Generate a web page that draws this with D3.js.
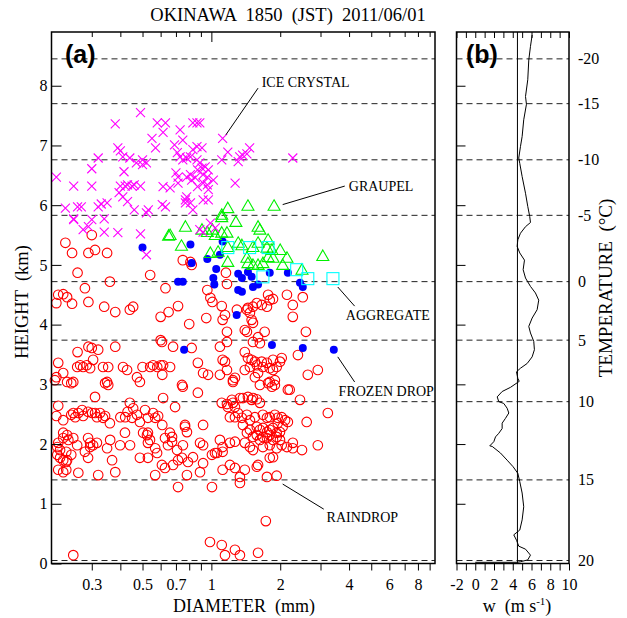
<!DOCTYPE html>
<html>
<head>
<meta charset="utf-8">
<script src="https://d3js.org/d3.v7.min.js"></script>
<style>
  body { margin: 0; background: #fff; }
  text { font-family: "Liberation Serif", "Times New Roman", serif; }
</style>
</head>
<body>
<div id="chart"></div>
<script>
// particle type, diameter (mm) and height (km)
const iceCrystal = [
  [0.21,6.47],[0.25,6.32],[0.23,5.95],[0.26,5.97],[0.27,5.97],[0.25,5.77],[0.30,6.61],[0.30,6.32],
  [0.32,5.97],[0.33,6.02],[0.35,6.04],[0.34,5.77],[0.38,7.36],[0.39,6.96],[0.40,6.91],[0.32,6.79],
  [0.41,6.81],[0.415,6.56],[0.40,6.32],[0.42,6.32],[0.43,6.34],[0.45,6.32],[0.46,6.34],[0.49,6.32],
  [0.395,6.21],[0.41,6.14],[0.43,6.06],[0.46,5.92],[0.49,7.55],[0.44,6.79],[0.47,6.71],[0.50,6.68],
  [0.50,6.76],[0.52,6.71],[0.55,7.12],[0.57,6.96],[0.58,7.38],[0.63,7.38],[0.615,7.22],[0.615,6.31],
  [0.61,6.01],[0.63,5.97],[0.52,5.87],[0.53,5.92],[0.69,7.01],[0.71,6.88],[0.73,6.81],[0.75,6.76],
  [0.78,6.79],[0.81,6.81],[0.70,6.54],[0.715,6.47],[0.73,7.26],[0.75,7.09],[0.78,6.47],[0.81,6.51],
  [0.82,6.42],[0.85,6.46],[0.77,6.09],[0.78,6.14],[0.81,6.04],[0.83,7.38],[0.865,7.38],[0.89,7.38],
  [0.83,6.93],[0.865,6.98],[0.91,6.96],[0.865,6.76],[0.89,6.71],[0.87,6.59],[0.91,6.62],[0.94,6.64],
  [0.97,6.59],[0.92,6.51],[0.96,6.47],[0.87,6.31],[0.92,6.37],[0.96,6.34],[0.97,6.26],[0.92,6.09],
  [0.97,6.09],[0.83,5.92],[1.12,7.12],[1.18,6.89],[1.11,6.76],[1.27,6.37],[1.33,6.81],[1.37,6.84],
  [1.31,6.73],[1.47,6.96],[2.27,6.79],[0.25,5.76],[0.275,5.59],[0.29,5.64],[0.34,5.55],[0.39,5.54],
  [0.49,5.52],[0.52,5.17],[0.30,5.76],[0.77,6.04],[0.99,5.70],[1.04,5.62],[0.92,5.55],[0.89,5.59],
  [1.43,6.86],[0.715,6.37],[0.66,6.29],[1.02,6.42]
];

const graupel = [
  [1.18,5.95],[1.11,5.80],[1.445,5.99],[1.88,5.99],[1.28,5.72],[0.77,5.64],[0.91,5.59],[0.96,5.55],
  [1.01,5.59],[1.04,5.50],[1.17,5.54],[1.60,5.64],[1.63,5.59],[0.65,5.49],[0.74,5.32],[0.99,5.20],
  [1.07,5.22],[1.18,5.30],[1.18,5.05],[1.36,5.33],[1.52,5.30],[1.60,5.37],[1.77,5.42],[1.75,5.29],
  [1.84,5.25],[2.0,5.25],[2.14,5.12],[1.445,5.03],[1.52,5.00],[1.60,5.00],[1.68,5.03],[1.77,5.13],
  [1.86,5.12],[2.05,5.00],[2.49,4.92],[3.07,5.15],[1.43,5.12],[1.31,5.37],[0.66,5.50],[1.11,5.84],
  [1.11,5.54]
];

const aggregate = [
  [1.18,5.29],[1.47,5.29],[1.77,5.29],[1.68,4.80],[2.36,4.92],[2.64,4.77],[3.40,4.77]
];

const frozenDrop = [
  [0.81,5.34],[0.82,5.03],[0.96,5.10],[1.09,5.17],[1.12,5.39],[1.05,4.93],[1.02,4.78],[1.03,4.67],
  [1.31,4.85],[1.36,4.78],[1.445,4.88],[1.50,4.80],[1.31,4.58],[1.36,4.55],[1.52,4.63],[1.60,4.67],
  [1.80,4.87],[2.16,4.87],[2.44,4.70],[2.51,4.63],[0.715,4.72],[0.75,4.72],[1.29,4.16],[1.84,3.66],
  [2.51,3.61],[3.43,3.58],[0.50,5.29],[0.76,3.58]
];

const raindrop = [
  [0.23,5.37],[0.246,5.20],[0.30,5.50],[0.31,5.25],[0.29,5.20],[0.35,5.20],[0.26,4.87],[0.28,4.61],
  [0.214,4.50],[0.225,4.51],[0.234,4.46],[0.21,4.36],[0.246,4.35],[0.29,4.38],[0.36,4.72],[0.54,4.83],
  [0.63,4.61],[0.34,4.30],[0.38,4.21],[0.44,4.25],[0.455,4.30],[0.75,5.08],[0.81,5.05],[0.82,5.00],
  [0.60,4.13],[0.65,4.21],[0.715,4.31],[0.80,4.01],[0.96,4.58],[0.99,4.45],[1.01,4.38],[0.95,4.11],
  [1.11,4.31],[1.12,4.08],[1.17,3.88],[0.60,3.74],[0.68,3.63],[1.17,3.71],[0.82,3.61],[0.214,3.36],
  [0.26,3.54],[0.29,3.63],[0.30,3.61],[0.32,3.58],[0.38,3.63],[0.21,3.12],[0.225,3.19],[0.234,3.04],
  [0.244,3.02],[0.249,3.04],[0.259,3.29],[0.267,3.32],[0.275,3.29],[0.285,3.32],[0.295,3.27],[0.304,3.41],
  [0.336,3.29],[0.354,3.29],[0.35,3.04],[0.343,3.02],[0.411,3.29],[0.428,3.24],[0.473,3.12],[0.487,3.04],
  [0.50,3.29],[0.54,3.29],[0.556,3.32],[0.58,3.29],[0.60,3.32],[0.615,3.32],[0.61,3.16],[0.66,3.29],
  [0.744,2.99],[0.873,3.36],[0.92,3.19],[0.967,3.16],[1.147,3.38],[1.17,3.24],[1.09,3.63],[0.207,3.07],
  [0.214,2.64],[0.21,2.47],[0.225,2.40],[0.244,2.49],[0.249,2.52],[0.254,2.45],[0.262,2.52],[0.272,2.57],
  [0.275,2.47],[0.289,2.54],[0.301,2.52],[0.31,2.52],[0.316,2.45],[0.326,2.52],[0.336,2.44],[0.343,2.47],
  [0.31,2.79],[0.354,2.99],[0.36,2.35],[0.40,2.45],[0.42,2.45],[0.43,2.54],[0.44,2.69],[0.45,2.44],
  [0.455,2.60],[0.473,2.49],[0.513,2.57],[0.528,2.44],[0.556,2.52],[0.568,2.44],[0.585,2.47],[0.615,2.77],
  [0.694,2.62],[0.75,2.96],[0.873,2.86],[0.61,2.32],[0.487,2.37],[0.767,2.32],[0.92,2.32],[1.11,2.69],
  [1.17,2.67],[1.243,2.69],[1.333,2.77],[1.374,2.77],[1.50,2.74],[1.58,2.75],[1.63,2.69],[1.205,2.45],
  [1.268,2.45],[1.307,2.52],[1.36,2.44],[1.43,2.49],[1.474,2.40],[1.55,2.45],[1.68,2.49],[1.75,2.44],
  [1.80,2.45],[1.895,2.49],[1.95,2.44],[2.03,2.45],[2.10,2.40],[1.58,2.29],[1.63,2.24],[1.68,2.27],
  [1.75,2.20],[1.80,2.24],[1.86,2.27],[1.93,2.19],[1.995,2.20],[1.52,2.12],[1.58,2.15],[1.63,2.07],
  [1.68,2.12],[1.75,2.10],[1.80,2.15],[1.86,2.07],[1.93,2.12],[1.995,2.07],[1.95,2.35],[2.05,2.29],
  [2.16,2.37],[1.374,2.32],[1.43,2.19],[1.474,2.24],[1.40,2.02],[1.474,1.95],[1.52,1.90],[1.68,1.95],
  [1.80,1.98],[1.93,1.93],[2.03,1.98],[2.14,1.95],[1.205,2.02],[1.268,2.04],[1.09,2.07],[1.12,1.95],
  [1.037,1.85],[1.12,1.57],[1.333,1.45],[1.333,1.35],[1.40,1.57],[1.58,1.62],[1.60,1.65],[1.75,1.45],
  [1.80,1.77],[1.86,1.78],[1.93,1.47],[1.73,0.71],[2.27,2.02],[2.49,1.90],[2.61,2.37],[2.20,2.91],
  [2.44,2.74],[2.92,1.98],[3.23,2.52],[2.27,1.93],[1.80,3.04],[1.895,2.99],[1.63,2.99],[1.243,3.04],
  [1.006,1.28],[0.715,1.28],[0.782,1.48],[0.568,1.48],[0.892,1.53],[0.92,1.68],[1.006,1.82],[1.058,1.85],
  [0.92,1.98],[0.892,2.02],[0.831,1.78],[0.715,1.73],[0.744,1.77],[0.646,1.98],[0.673,2.04],[0.627,2.10],
  [0.659,2.19],[0.673,2.12],[0.751,1.98],[0.767,2.29],[0.782,2.20],[0.608,1.65],[0.627,1.60],[0.568,1.93],
  [0.579,1.85],[0.503,2.19],[0.523,2.15],[0.528,2.19],[0.539,2.07],[0.528,2.02],[0.487,1.77],[0.528,1.77],
  [0.441,1.98],[0.399,1.98],[0.419,2.19],[0.361,2.07],[0.35,1.93],[0.368,1.73],[0.38,1.53],[0.32,1.48],
  [0.262,1.52],[0.289,1.77],[0.28,1.87],[0.295,2.02],[0.295,1.95],[0.304,1.98],[0.316,2.02],[0.289,2.10],
  [0.259,1.98],[0.249,2.10],[0.225,2.19],[0.234,2.15],[0.225,2.10],[0.237,2.07],[0.214,2.02],[0.212,1.95],
  [0.218,1.90],[0.212,1.82],[0.218,1.77],[0.232,1.70],[0.225,1.73],[0.234,1.73],[0.214,1.57],[0.225,1.53],
  [0.232,1.57],[0.244,1.82],[0.232,1.87],[0.249,0.14],[0.986,0.36],[1.11,0.31],[1.147,0.14],[1.268,0.23],
  [1.333,0.14],[1.60,0.18],[0.79,1.70],[0.68,1.65],[0.708,1.90],[1.205,1.65],[1.268,1.60],[1.12,1.87],
  [1.158,4.87],[1.17,4.68],[1.293,4.25],[1.43,4.25],[1.474,4.20],[1.52,4.30],[1.58,4.36],[1.66,4.33],
  [1.75,4.30],[1.50,4.08],[1.52,4.03],[1.43,3.88],[1.60,3.79],[1.71,3.88],[1.52,3.71],[1.63,3.69],
  [1.77,4.50],[1.86,4.43],[2.14,4.50],[2.27,4.33],[2.51,4.46],[2.27,4.13],[2.59,3.88],[0.608,3.71],
  [1.80,4.41],[1.445,4.28],[1.147,4.16],[1.40,3.91],[1.40,3.54],[1.445,3.44],[1.50,3.41],[1.55,3.38],
  [1.474,3.29],[1.58,3.32],[1.66,3.38],[1.68,3.29],[1.75,3.36],[1.80,3.27],[1.86,3.24],[1.93,3.29],
  [1.995,3.38],[2.03,3.44],[1.86,3.41],[1.40,3.24],[1.268,3.11],[1.243,3.07],[1.55,3.12],[1.60,3.19],
  [1.77,3.02],[1.84,2.96],[1.895,3.07],[2.16,2.91],[2.39,3.49],[2.64,3.16],[2.92,3.24],[1.12,3.41],
  [1.09,3.16],[1.18,2.62],[1.23,2.74],[1.268,2.62],[1.445,2.79],[1.52,2.77]
];

// vertical velocity profile, w (m/s) and height (km)
const wProfile = [
  [0.0,0.02],[4.47,0.02],[4.82,0.03],[5.60,0.06],[5.89,0.14],[5.36,0.24],[4.64,0.29],[4.40,0.39],
  [4.11,0.48],[4.75,0.56],[5.00,0.73],[5.17,0.95],[5.00,1.18],[4.75,1.37],[4.54,1.51],[4.04,1.62],
  [3.40,1.73],[2.69,1.85],[1.81,1.96],[1.55,1.97],[1.98,2.04],[2.16,2.12],[2.51,2.18],[2.87,2.26],
  [2.87,2.35],[3.22,2.43],[3.58,2.52],[3.40,2.60],[3.04,2.68],[2.51,2.71],[2.34,2.79],[2.87,2.88],
  [3.76,2.95],[4.69,3.05],[4.54,3.10],[4.40,3.21],[4.82,3.27],[5.54,3.35],[6.07,3.46],[6.31,3.58],
  [6.24,3.72],[5.89,3.86],[5.71,3.97],[6.07,4.11],[6.60,4.25],[6.77,4.41],[6.42,4.53],[5.89,4.64],
  [5.36,4.78],[5.11,4.92],[5.25,5.08],[4.75,5.20],[4.47,5.31],[4.54,5.42],[4.82,5.53],[5.36,5.64],
  [5.89,5.71],[5.81,5.81],[5.60,5.98],[5.36,6.20],[5.00,6.48],[4.75,6.70],[4.64,6.79],[4.82,6.98],
  [5.00,7.15],[5.17,7.43],[5.46,7.69],[5.36,7.82],[5.60,8.10],[5.71,8.43],[5.89,8.66],[6.07,8.85]
];
const wMean = 4.5;

// temperature levels and the heights where they occur
const tempLevels = [-20, -15, -10, -5, 0, 5, 10, 15, 20];
const tempHeights = [8.45, 7.70, 6.76, 5.83, 4.72, 3.74, 2.71, 1.40, 0.05];

const diamTicks = [0.3, 0.4, 0.5, 0.6, 0.7, 0.8, 0.9, 1, 2, 3, 4, 5, 6, 7, 8, 9];
const diamLabels = [0.3, 0.5, 0.7, 1, 2, 4, 6, 8];
const heightTicks = [0, 1, 2, 3, 4, 5, 6, 7, 8];
const wTicks = d3.range(-2, 11, 1);
const wLabels = [-2, 0, 2, 4, 6, 8, 10];

// annotation text and leader lines, in data units [diameter, height]
const notes = [
  { label: "ICE CRYSTAL", at: [1.66, 7.98], from: [1.60, 7.96], to: [1.158, 7.18] },
  { label: "GRAUPEL", at: [3.99, 6.24], from: [3.83, 6.32], to: [2.05, 6.01] },
  { label: "AGGREGATE", at: [3.87, 4.08], from: [3.57, 4.63], to: [4.23, 4.31] },
  { label: "FROZEN DROP", at: [3.60, 2.81], from: [3.57, 3.46], to: [4.23, 3.04] },
  { label: "RAINDROP", at: [3.19, 0.70], from: [2.05, 1.33], to: [3.10, 0.91] }
];

const width = 627, height = 618;
const svg = d3.select("#chart").append("svg")
  .attr("width", width).attr("height", height);

const aLeft = 51.5, aRight = 435, bLeft = 456.5, bRight = 569, yTop = 32, yBottom = 563.5;

const x = d3.scaleLog().domain([0.2, 9.5]).range([aLeft, aRight]);
const y = d3.scaleLinear().domain([0, 8.9]).range([yBottom, yTop]);
const xw = d3.scaleLinear().domain([-2, 10]).range([bLeft, bRight]);

const fmt = v => (v < 0 ? "-" + Math.abs(v) : String(v));
const serif = "Liberation Serif";

// dashed temperature levels on both panels
[[aLeft, aRight], [bLeft, bRight]].forEach(([x0, x1]) => {
  svg.append("g")
    .selectAll("line")
    .data(tempHeights)
    .join("line")
    .attr("x1", x0).attr("x2", x1)
    .attr("y1", d => y(d)).attr("y2", d => y(d))
    .attr("stroke", "#222")
    .attr("stroke-width", 1)
    .attr("stroke-dasharray", "6,4");
});

// ---- panel (a) points
const pts = svg.append("g");

pts.append("g").selectAll("circle")
  .data(raindrop).join("circle")
  .attr("cx", d => x(d[0])).attr("cy", d => y(d[1]))
  .attr("r", 4.8)
  .attr("fill", "none").attr("stroke", "#ff0000").attr("stroke-width", 1.1);

pts.append("g").selectAll("circle")
  .data(frozenDrop).join("circle")
  .attr("cx", d => x(d[0])).attr("cy", d => y(d[1]))
  .attr("r", 4)
  .attr("fill", "#0000ff");

pts.append("g").selectAll("path")
  .data(graupel).join("path")
  .attr("transform", d => `translate(${x(d[0])},${y(d[1])})`)
  .attr("d", "M0,-6L6,4.5L-6,4.5Z")
  .attr("fill", "none").attr("stroke", "#00f000").attr("stroke-width", 1.1);

pts.append("g").selectAll("rect")
  .data(aggregate).join("rect")
  .attr("x", d => x(d[0]) - 6).attr("y", d => y(d[1]) - 6)
  .attr("width", 12).attr("height", 12)
  .attr("fill", "none").attr("stroke", "#00ffff").attr("stroke-width", 1.1);

pts.append("g").selectAll("path")
  .data(iceCrystal).join("path")
  .attr("transform", d => `translate(${x(d[0])},${y(d[1])})`)
  .attr("d", "M-4.5,-4.5L4.5,4.5M-4.5,4.5L4.5,-4.5")
  .attr("fill", "none").attr("stroke", "#ff00ff").attr("stroke-width", 1.1);

// annotations
const ann = svg.append("g");
ann.selectAll("line")
  .data(notes).join("line")
  .attr("x1", d => x(d.from[0])).attr("y1", d => y(d.from[1]))
  .attr("x2", d => x(d.to[0])).attr("y2", d => y(d.to[1]))
  .attr("stroke", "#000").attr("stroke-width", 1);
ann.selectAll("text")
  .data(notes).join("text")
  .attr("x", d => x(d.at[0])).attr("y", d => y(d.at[1]))
  .attr("font-size", 14)
  .text(d => d.label);

// ---- panel (a) axes
svg.append("g")
  .attr("class", "lab")
  .attr("transform", `translate(0,${yBottom})`)
  .call(d3.axisBottom(x).tickValues(diamTicks).tickSize(7).tickPadding(8)
    .tickFormat(d => diamLabels.includes(d) ? String(d) : ""));

svg.append("g")
  .attr("transform", `translate(0,${yTop})`)
  .call(d3.axisTop(x).tickValues(diamTicks).tickSizeInner(-5).tickSizeOuter(0).tickFormat(""))
  .selectAll(".tick line").attr("y2", d => d === 1 ? 10 : 5);

svg.append("g")
  .attr("class", "lab")
  .attr("transform", `translate(${aLeft},0)`)
  .call(d3.axisLeft(y).tickValues(heightTicks).tickSize(-10).tickPadding(4).tickFormat(d3.format("d")));

// ---- panel (b)
svg.append("line")
  .attr("x1", xw(wMean)).attr("x2", xw(wMean))
  .attr("y1", yTop).attr("y2", yBottom)
  .attr("stroke", "#000").attr("stroke-width", 1);

svg.append("path")
  .datum(wProfile)
  .attr("fill", "none").attr("stroke", "#000").attr("stroke-width", 1)
  .attr("d", d3.line().x(d => xw(d[0])).y(d => y(d[1])));

svg.append("g")
  .attr("class", "lab")
  .attr("transform", `translate(0,${yBottom})`)
  .call(d3.axisBottom(xw).tickValues(wTicks).tickSize(7).tickPadding(8)
    .tickFormat(d => wLabels.includes(d) ? fmt(d) : ""));

svg.append("g")
  .attr("transform", `translate(0,${yTop})`)
  .call(d3.axisTop(xw).tickValues(wTicks).tickSize(-6).tickFormat(""));

svg.append("g")
  .attr("transform", `translate(${bLeft},0)`)
  .call(d3.axisLeft(y).tickValues(heightTicks.slice(1)).tickSize(-9).tickFormat(""));

// temperature labels on the right
svg.append("g")
  .selectAll("text")
  .data(tempLevels).join("text")
  .attr("x", 578)
  .attr("y", (d, i) => y(tempHeights[i]))
  .attr("dy", "0.35em")
  .attr("font-size", 16)
  .text(d => fmt(d));

// axis styling: serif labels, no domain paths
svg.selectAll(".domain").remove();
svg.selectAll(".lab").attr("font-size", 16).attr("font-family", serif);
svg.selectAll(".tick line").attr("stroke", "#000");

[[aLeft, aRight], [bLeft, bRight]].forEach(([x0, x1]) => {
  svg.append("rect")
    .attr("x", x0).attr("y", yTop)
    .attr("width", x1 - x0).attr("height", yBottom - yTop)
    .attr("fill", "none").attr("stroke", "#000").attr("stroke-width", 1.5);
});

// panel tags
svg.append("text").attr("x", 65).attr("y", 63)
  .style("font-family", "'Liberation Sans', Arial, sans-serif")
  .attr("font-weight", "bold").attr("font-size", 25).text("(a)");
svg.append("text").attr("x", 466).attr("y", 63)
  .style("font-family", "'Liberation Sans', Arial, sans-serif")
  .attr("font-weight", "bold").attr("font-size", 25).text("(b)");

// titles
svg.append("text")
  .attr("x", 288).attr("y", 21)
  .attr("text-anchor", "middle").attr("font-size", 18.5)
  .style("white-space", "pre")
  .text("OKINAWA  1850  (JST)  2011/06/01");

svg.append("text")
  .attr("x", 244).attr("y", 612)
  .attr("text-anchor", "middle").attr("font-size", 18)
  .style("white-space", "pre")
  .text("DIAMETER  (mm)");

const wl = svg.append("text")
  .attr("x", 517).attr("y", 612)
  .attr("text-anchor", "middle").attr("font-size", 18)
  .style("white-space", "pre");
wl.append("tspan").text("w  (m s");
wl.append("tspan").attr("dy", -7).attr("font-size", 11).text("-1");
wl.append("tspan").attr("dy", 7).text(")");

svg.append("text")
  .attr("transform", "translate(28,302) rotate(-90)")
  .attr("text-anchor", "middle").attr("font-size", 18.5)
  .style("white-space", "pre")
  .text("HEIGHT  (km)");

svg.append("text")
  .attr("transform", "translate(612,288) rotate(-90)")
  .attr("text-anchor", "middle").attr("font-size", 19)
  .style("white-space", "pre")
  .text("TEMPERATURE  (°C)");
</script>
</body>
</html>
